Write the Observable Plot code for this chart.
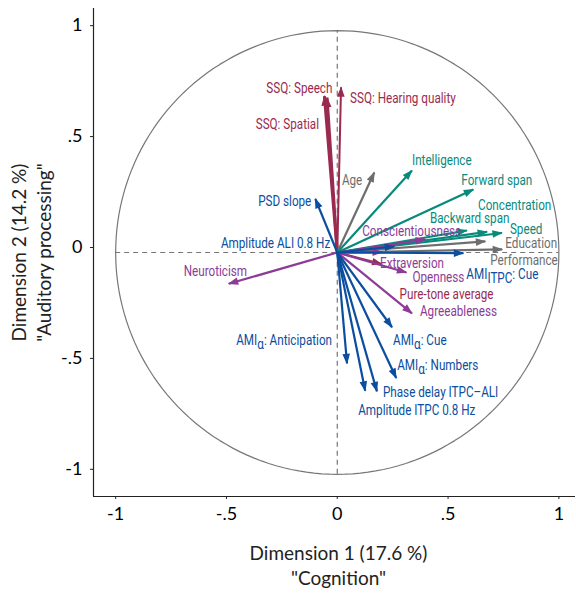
<!DOCTYPE html>
<html><head><meta charset="utf-8">
<script src="https://cdn.jsdelivr.net/npm/d3@7"></script>
<script src="https://cdn.jsdelivr.net/npm/@observablehq/plot@0.6"></script>
<style>body{margin:0;background:#fff}</style>
</head><body><div id="chart"></div>
<script>
// ---- data (loadings on the two dimensions) ----
const variables = [
  "SSQ: Speech","SSQ: Spatial","SSQ: Hearing quality","Pure-tone average",
  "Age","Education","Performance",
  "Intelligence","Forward span","Backward span","Concentration","Speed",
  "Conscientiousness","Extraversion","Openness","Agreeableness","Neuroticism",
  "PSD slope","Amplitude ALI 0.8 Hz","AMI_{ITPC}: Cue","AMI_{α}: Anticipation",
  "AMI_{α}: Cue","AMI_{α}: Numbers","Phase delay ITPC–ALI","Amplitude ITPC 0.8 Hz"
];
const dim1 = [-0.058,-0.046,0.017,0.200, 0.167,0.668,0.744, 0.337,0.614,0.585,0.676,0.743,
  0.397,0.202,0.312,0.337,-0.490, -0.099,0.257,0.569,0.044,0.247,0.266,0.179,0.126];
const dim2 = [0.705,0.698,0.745,-0.052, 0.361,0.050,0.014, 0.370,0.284,0.099,0.093,0.088,
  0.059,0.002,-0.090,-0.274,-0.141, 0.242,0.027,-0.003,-0.500,-0.337,-0.566,-0.626,-0.623];
const groups = ["ssq","ssq","ssq","ssq","demo","demo","demo","cog","cog","cog","cog","cog",
  "pers","pers","pers","pers","pers","eeg","eeg","eeg","eeg","eeg","eeg","eeg","eeg"];
const xTicks = [-1,-0.5,0,0.5,1];
const yTicks = [-1,-0.5,0,0.5,1];
const xTitle = "Dimension 1 (17.6 %)\n\"Cognition\"";
const yTitle = "Dimension 2 (14.2 %)\n\"Auditory processing\"";

// ---- styles / layout ----
const groupColor = {ssq:"#9b2b4e", demo:"#6e6e6e", cog:"#078a7c", pers:"#8c3b97", eeg:"#0b4d9f"};
const thick = {"SSQ: Speech":3, "SSQ: Spatial":3, "SSQ: Hearing quality":2};
// label offsets in pixels from arrow tip: [dx, dy, anchor]
const labelOffsets = {
  "SSQ: Speech":[8,-8,"end"], "SSQ: Spatial":[-8,27,"end"], "SSQ: Hearing quality":[9,11,"start"],
  "Pure-tone average":[18,30,"start"], "Age":[-12,8,"end"], "Education":[20,2,"start"],
  "Performance":[-12,11,"start"], "Intelligence":[0,-10,"start"], "Forward span":[-12,-9,"start"],
  "Backward span":[-37,-12,"start"], "Concentration":[-9,-27,"start"], "Speed":[8,-4,"start"],
  "Conscientiousness":[-63,-8,"start"], "Extraversion":[-2,11,"start"], "Openness":[6,5,"start"],
  "Agreeableness":[8,-2,"start"], "Neuroticism":[-45,-13,"start"], "PSD slope":[-4,2,"end"],
  "Amplitude ALI 0.8 Hz":[-64,-3,"end"], "AMI_{ITPC}: Cue":[3,21,"start"],
  "AMI_{α}: Anticipation":[-15,-23,"end"], "AMI_{α}: Cue":[1,13,"start"],
  "AMI_{α}: Numbers":[1,-13,"start"], "Phase delay ITPC–ALI":[6,1,"start"],
  "Amplitude ITPC 0.8 Hz":[-7,19,"start"]
};
const labelCondense = 0.78;

const rows = variables.map((v,i) => ({name:v, x:dim1[i], y:dim2[i], group:groups[i]}));
const circle = d3.range(0, 361, 2).map(a => ({x:Math.cos(a*Math.PI/180), y:Math.sin(a*Math.PI/180)}));

const labelFont = "Roboto, sans-serif";
const axisFont = "Lato, 'Noto Sans', sans-serif";

function tri(color, context) {
  const doc = (context && context.document) || document;
  const ns = "http://www.w3.org/2000/svg";
  const m = doc.createElementNS(ns, "marker");
  m.setAttribute("viewBox", "-10 -5 11 10");
  m.setAttribute("markerWidth", 11);
  m.setAttribute("markerHeight", 10);
  m.setAttribute("markerUnits", "userSpaceOnUse");
  m.setAttribute("orient", "auto");
  m.setAttribute("refX", 0);
  m.setAttribute("refY", 0);
  const p = doc.createElementNS(ns, "path");
  p.setAttribute("d", "M-9.5,-3.8L1,0L-9.5,3.8Z");
  p.setAttribute("fill", color);
  p.setAttribute("stroke", "none");
  m.appendChild(p);
  return m;
}

const fmt = d => d === 0 ? "0" : (d < 0 ? "-" : "") + String(Math.abs(d)).replace(/^0/, "");

function build(marker) {
  const marks = [
    Plot.line(circle, {x:"x", y:"y", stroke:"#777", strokeWidth:1.2}),
    Plot.ruleX([0], {y1:-1, y2:1, stroke:"#777", strokeWidth:1.2, strokeDasharray:"5,4"}),
    Plot.ruleY([0], {x1:-1, x2:1, stroke:"#777", strokeWidth:1.2, strokeDasharray:"5,4"}),
    Plot.ruleX([-1.10], {stroke:"#222", strokeWidth:1.2}),
    Plot.ruleY([-1.10], {stroke:"#222", strokeWidth:1.2}),
    Plot.axisX({ticks:xTicks, tickFormat:fmt, tickSize:3, tickPadding:8, fontSize:18, fontFamily:axisFont, label:null, stroke:"#222"}),
    Plot.axisY({ticks:yTicks, tickFormat:fmt, tickSize:3, tickPadding:8, fontSize:18, fontFamily:axisFont, label:null, dy:-5, stroke:"#222"}),
    Plot.text([xTitle], {text:d=>d, frameAnchor:"bottom", textAnchor:"middle", lineAnchor:"middle", dx:4, dy:68, fontSize:19, lineHeight:1.3, fontFamily:axisFont, fill:"#222"}),
    Plot.text([yTitle], {text:d=>d, frameAnchor:"left", textAnchor:"middle", lineAnchor:"middle", rotate:-90, dx:-63, fontSize:19, lineHeight:1.3, fontFamily:axisFont, fill:"#222"}),
    Plot.link(rows, {x1:0, y1:0, x2:"x", y2:"y",
      stroke:d=>groupColor[d.group], strokeWidth:d=>thick[d.name] || 2.2, markerEnd:marker})
  ];
  for (const r of rows) {
    const [dx, dy, anchor] = labelOffsets[r.name];
    marks.push(Plot.text([r], {x:"x", y:"y", text:"name", dx, dy, textAnchor:anchor,
      fill:groupColor[r.group], fontSize:15, fontFamily:labelFont}));
  }
  return Plot.plot({
    width:576, height:594,
    marginLeft:93, marginRight:1, marginTop:8, marginBottom:98,
    x:{domain:[-1.10, 1.075], axis:null},
    y:{domain:[-1.10, 1.10], axis:null},
    style:{background:"#fff", overflow:"visible"},
    marks
  });
}

let svg;
try { svg = build(tri); } catch (e) { svg = build("arrow"); }

const ns = "http://www.w3.org/2000/svg";
svg.querySelectorAll("text").forEach(t => {
  const g = t.closest("g");
  if (!g || !(g.getAttribute("font-family") || "").includes("Roboto")) return;
  // subscripts: "_{...}" -> lowered tspan
  if (t.children.length === 0 && t.textContent.includes("_{")) {
    const m = t.textContent.match(/^(.*?)_\{(.*?)\}(.*)$/);
    t.textContent = "";
    const a = document.createElementNS(ns, "tspan"); a.textContent = m[1];
    const b = document.createElementNS(ns, "tspan"); b.textContent = m[2]; b.setAttribute("dy", "4");
    const c = document.createElementNS(ns, "tspan"); c.textContent = m[3]; c.setAttribute("dy", "-4");
    t.append(a, b, c);
  }
  // condensed look: scale horizontally around the anchor point
  let tr = t.getAttribute("transform");
  if (!tr) {
    const x = +t.getAttribute("x") || 0, y = +t.getAttribute("y") || 0;
    t.removeAttribute("x"); t.removeAttribute("y");
    tr = `translate(${x},${y})`;
  }
  t.setAttribute("transform", `${tr} scale(${labelCondense},1)`);
});
document.getElementById("chart").appendChild(svg);
</script>
</body></html>
